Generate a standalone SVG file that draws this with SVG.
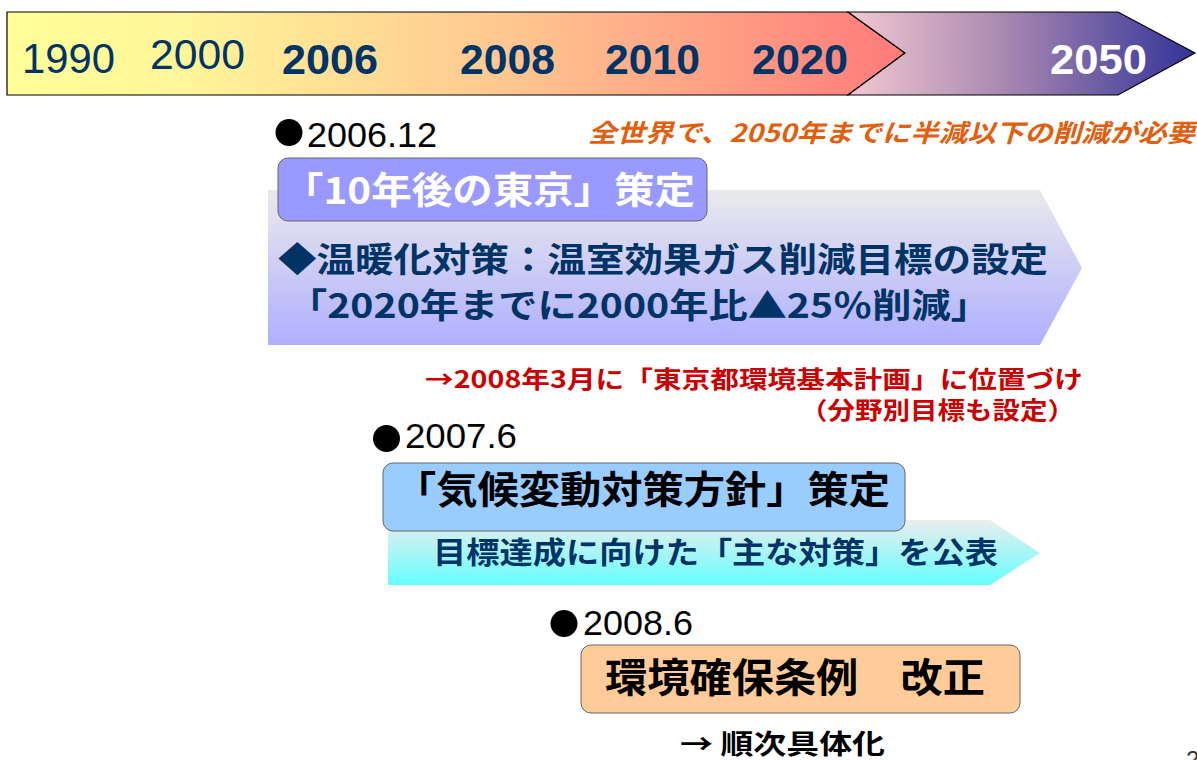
<svg xmlns="http://www.w3.org/2000/svg" width="1197" height="760" viewBox="0 0 1197 760">
<defs>
<linearGradient id="gA" x1="7" y1="0" x2="905" y2="0" gradientUnits="userSpaceOnUse">
<stop offset="0" stop-color="#FFFF99"/>
<stop offset="0.2" stop-color="#FFF599"/>
<stop offset="0.55" stop-color="#FFC890"/>
<stop offset="1" stop-color="#FF7A7A"/>
</linearGradient>
<linearGradient id="gB" x1="848" y1="0" x2="1195" y2="0" gradientUnits="userSpaceOnUse">
<stop offset="0" stop-color="#F2C8D0"/>
<stop offset="0.45" stop-color="#A888B0"/>
<stop offset="1" stop-color="#333399"/>
</linearGradient>
<linearGradient id="gC" x1="0" y1="0" x2="0" y2="1">
<stop offset="0" stop-color="#EAEAEC"/>
<stop offset="1" stop-color="#AFAFFF"/>
</linearGradient>
<linearGradient id="gD" x1="0" y1="0" x2="0" y2="1">
<stop offset="0" stop-color="#ECECEC"/>
<stop offset="1" stop-color="#66FFFF"/>
</linearGradient>
<style>
.yr{font-family:"Liberation Sans",Arial,sans-serif;font-size:42px;fill:#003366}
.yb{font-weight:bold}
.dt{font-family:"Liberation Sans",Arial,sans-serif;font-size:35px;fill:#000}
.jp{font-family:"Noto Sans CJK JP",sans-serif;font-weight:bold}
.box{stroke:#666;stroke-width:1}
</style>
</defs>

<g id="timeline">
<polygon points="7,12 848,12 905,53 848,95 7,95" fill="url(#gA)" stroke="#000" stroke-width="1.2"/>
<polygon points="848,12 1118,12 1195,53 1118,95 848,95 905,53" fill="url(#gB)" stroke="#000" stroke-width="1.2"/>
<text class="yr" x="22" y="73" textLength="93" lengthAdjust="spacingAndGlyphs">1990</text>
<text class="yr" x="150" y="69" textLength="95" lengthAdjust="spacingAndGlyphs">2000</text>
<text class="yr yb" x="282" y="74" textLength="96" lengthAdjust="spacingAndGlyphs">2006</text>
<text class="yr yb" x="460" y="74" textLength="95" lengthAdjust="spacingAndGlyphs">2008</text>
<text class="yr yb" x="605" y="74" textLength="95" lengthAdjust="spacingAndGlyphs">2010</text>
<text class="yr yb" x="752" y="74" textLength="96" lengthAdjust="spacingAndGlyphs">2020</text>
<text class="yr yb" x="1050" y="74" textLength="97" lengthAdjust="spacingAndGlyphs" style="fill:#fff">2050</text>
</g>

<g id="note-world">
<text class="jp" x="588" y="142" font-size="25" font-style="italic" fill="#E0600F" textLength="607" lengthAdjust="spacingAndGlyphs">全世界で、2050年までに半減以下の削減が必要</text>
</g>

<g id="step-2006">
<circle cx="289" cy="132.5" r="13.5" fill="#000"/>
<text class="dt" x="307" y="147" textLength="130" lengthAdjust="spacingAndGlyphs">2006.12</text>
<polygon points="268,190 1040,190 1082,268 1040,345 268,345" fill="url(#gC)"/>
<rect class="box" x="278" y="158" width="429" height="63" rx="10" fill="#9999FF"/>
<text class="jp" x="283" y="204" font-size="37" fill="#fff" textLength="412" lengthAdjust="spacingAndGlyphs">「10年後の東京」策定</text>
<text class="jp" x="278" y="272" font-size="34" fill="#003366" textLength="770" lengthAdjust="spacingAndGlyphs">◆温暖化対策：温室効果ガス削減目標の設定</text>
<text class="jp" x="288" y="318" font-size="34" fill="#003366" textLength="702" lengthAdjust="spacingAndGlyphs">「2020年までに2000年比▲25％削減」</text>
<text class="jp" x="425" y="388" font-size="24" fill="#CC0000" textLength="658" lengthAdjust="spacingAndGlyphs">→2008年3月に「東京都環境基本計画」に位置づけ</text>
<text class="jp" x="800" y="419" font-size="24" fill="#CC0000" textLength="275" lengthAdjust="spacingAndGlyphs">（分野別目標も設定）</text>
</g>

<g id="step-2007">
<circle cx="386.5" cy="438.5" r="13.5" fill="#000"/>
<text class="dt" x="405" y="448" textLength="112" lengthAdjust="spacingAndGlyphs">2007.6</text>
<polygon points="388,520 990,520 1040,553 990,585 388,585" fill="url(#gD)"/>
<rect class="box" x="383" y="463" width="522" height="68" rx="10" fill="#99CCFF"/>
<text class="jp" x="395" y="503" font-size="38" fill="#000" textLength="495" lengthAdjust="spacingAndGlyphs">「気候変動対策方針」策定</text>
<text class="jp" x="433" y="563" font-size="30" fill="#003366" textLength="565" lengthAdjust="spacingAndGlyphs">目標達成に向けた「主な対策」を公表</text>
</g>

<g id="step-2008">
<circle cx="564" cy="623.5" r="13.5" fill="#000"/>
<text class="dt" x="583" y="635" textLength="110" lengthAdjust="spacingAndGlyphs">2008.6</text>
<rect class="box" x="581" y="645" width="439" height="68" rx="10" fill="#FFCC99"/>
<text class="jp" x="605" y="692" font-size="40" fill="#000" textLength="380" lengthAdjust="spacingAndGlyphs">環境確保条例　改正</text>
<text class="jp" x="680" y="754" font-size="27" fill="#000" textLength="205" lengthAdjust="spacingAndGlyphs">→ 順次具体化</text>
</g>

<text x="1186" y="768" font-family="Liberation Sans,sans-serif" font-size="24" fill="#333">2</text>
</svg>
